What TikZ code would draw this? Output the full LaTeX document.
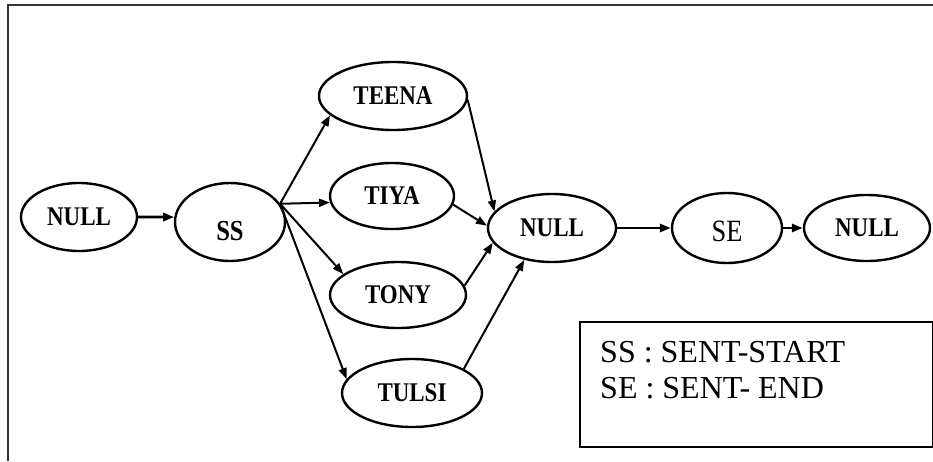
\documentclass[tikz,border=0pt]{standalone}
\usepackage{fontspec}
\setmainfont{Liberation Serif}
\usepackage{tikz}
\usetikzlibrary{positioning, shapes.geometric, arrows.meta}
% narrow, tall labels as in the scanned figure
\newcommand{\nm}[1]{\scalebox{0.85}[1]{#1}}

\begin{document}
\begin{tikzpicture}[x=1pt, y=-1pt,
    state/.style={draw, ellipse, line width=2.4pt, inner sep=0pt, font=\fontsize{27}{27}\selectfont\bfseries},
    link/.style={-{Triangle[length=11pt, width=8pt]}, line width=2pt},
    mainlink/.style={link, line width=2.8pt}]
        \useasboundingbox (0,0) rectangle (933,461);
        % Outer frame, cut off at right and bottom
        \draw[line width=2pt, black!80] (8,461) -- (8,5) -- (933,5);
        % States of the word network
        \node[state, minimum width=116pt, minimum height=68pt] (null1) at (79,217) {\nm{NULL}};
        \node[state, minimum width=110pt, minimum height=78pt, text height=38pt, font=\fontsize{29}{29}\selectfont\bfseries] (ss) at (230,222) {\nm{SS}};
        \node[state, minimum width=148pt, minimum height=68pt] (teena) at (393,96) {\nm{TEENA}};
        \node[state, minimum width=124pt, minimum height=66pt] (tiya) at (392,196) {\nm{TIYA}};
        \node[state, minimum width=136pt, minimum height=66pt] (tony) at (398,295) {\nm{TONY}};
        \node[state, minimum width=140pt, minimum height=68pt] (tulsi) at (412,393) {\nm{TULSI}};
        \node[state, minimum width=128pt, minimum height=68pt] (null2) at (552,228) {\nm{NULL}};
        \node[state, minimum width=110pt, minimum height=70pt, text height=27pt, font=\fontsize{31}{31}\selectfont] (se) at (727,228) {\nm{SE}};
        \node[state, minimum width=126pt, minimum height=66pt] (null3) at (867,228) {\nm{NULL}};
        % Arrows: start -> names -> end
        \draw[mainlink] (null1.east) -- (ss.175);
        \foreach \w/\a in {teena/197, tiya/186, tony/159, tulsi/168} {\draw[link] (ss.20) -- (\w.\a);}
        \draw[link] (teena.-3) -- (null2.164);
        \draw[link] (tiya.-8) -- (null2.178);
        \draw[link] (tony.8) -- (null2.194);
        \draw[link] (tulsi.25) -- (null2.229);
        \draw[mainlink] (null2.east) -- (se.west);
        \draw[mainlink] (se.east) -- (null3.west);
        % Legend box
        \node[draw, line width=2pt, anchor=north west, minimum width=353pt, minimum height=125pt, inner sep=0pt] (legend) at (579,321) {};
        \node[anchor=north west, align=left, inner sep=0pt, font=\fontsize{32}{36}\selectfont] (keys) at (600,341) {SS : SENT-START\\SE : SENT- END};
      \end{tikzpicture}
\end{document}
